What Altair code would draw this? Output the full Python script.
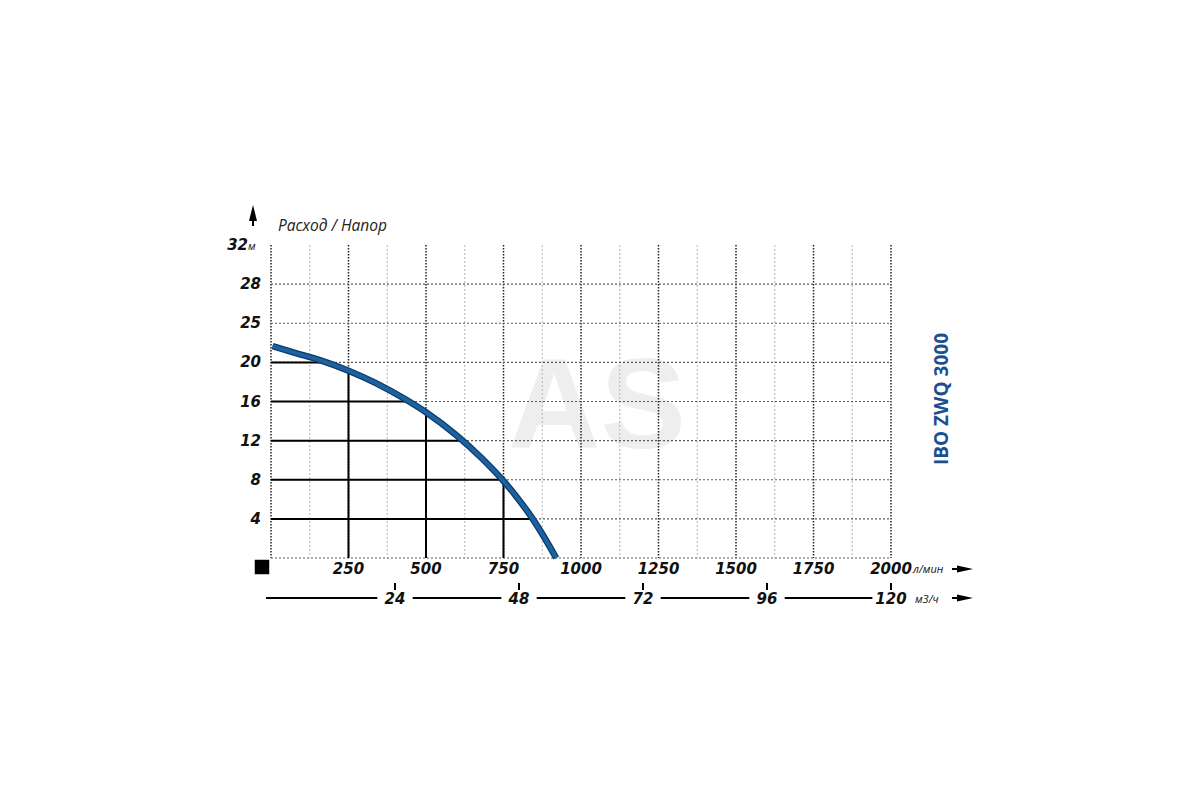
import altair as alt
import pandas as pd

# ---- data ----
flow_lpm = [5, 80, 160, 250, 340, 432, 500, 600, 680, 745, 790, 842, 880, 920]
head_m = [21.65, 20.95, 20.2, 19.15, 17.85, 16.25, 14.9, 12.5, 10.2, 8.05, 6.35, 4.1, 2.2, 0.0]

y_grid = [0, 4, 8, 12, 16, 20, 24, 28]
y_label_vals = [4, 8, 12, 16, 20, 24, 28]
y_label_text = ["4", "8", "12", "16", "20", "25", "28"]
x_major = [0, 250, 500, 750, 1000, 1250, 1500, 1750, 2000]
x_minor = [125, 375, 625, 875, 1125, 1375, 1625, 1875]
x_labels = [250, 500, 750, 1000, 1250, 1500, 1750, 2000]
m3h_ticks = [24, 48, 72, 96, 120]

ref_heads = [20, 16, 12, 8, 4]
ref_heads_flow_end = [177, 444, 617, 746, 844]
ref_flows = [250, 500, 750]
ref_flows_head_end = [19.15, 14.9, 7.9]

W, H = 620, 313
XD = [0, 2000]
YD = [0, 32]
FONT = "DejaVu Sans"


def X(field):
    return alt.X(field, type="quantitative", scale=alt.Scale(domain=XD, nice=False, zero=False),
                 title=None, axis=None)


def Y(field):
    return alt.Y(field, type="quantitative", scale=alt.Scale(domain=YD, nice=False, zero=False),
                 title=None, axis=None)


dummy = pd.DataFrame({"k": [0]})


def txt(s, x, y, size, weight="normal", style="normal", color="#111111",
        align="left", baseline="middle", font=FONT, angle=0):
    return alt.Chart(dummy).mark_text(
        text=s, fontSize=size, fontWeight=weight, fontStyle=style, color=color,
        align=align, baseline=baseline, font=font, angle=angle
    ).encode(x=alt.value(x), y=alt.value(y))


# watermark
watermark = txt("AS", 326, 203, 128, weight="bold", color="#eeeeee", align="center",
                baseline="alphabetic", font="Liberation Sans")

# grids
minor_df = pd.DataFrame({"q": x_minor})
minor = alt.Chart(minor_df).mark_rule(color="#b5b5b5", strokeWidth=1, strokeDash=[2, 2]).encode(
    x=X("q:Q"), y=alt.value(0), y2=alt.value(H))

major_df = pd.DataFrame({"q": x_major})
major = alt.Chart(major_df).mark_rule(color="#222222", strokeWidth=1.5, strokeDash=[1.5, 1.5]).encode(
    x=X("q:Q"), y=alt.value(0), y2=alt.value(H))

hgrid_df = pd.DataFrame({"h": y_grid})
hgrid = alt.Chart(hgrid_df).mark_rule(color="#5a5a5a", strokeWidth=1.2, strokeDash=[2, 2]).encode(
    y=Y("h:Q"), x=alt.value(0), x2=alt.value(W))

# tick labels through the scales
xl_df = pd.DataFrame({"q": x_labels, "lab": [str(v) for v in x_labels]})
x_lab = alt.Chart(xl_df).mark_text(font=FONT, fontSize=15, fontWeight="bold", fontStyle="italic",
                                   color="#111111", baseline="middle", align="center").encode(
    x=X("q:Q"), y=alt.value(324), text="lab:N")

yl_df = pd.DataFrame({"h": y_label_vals, "lab": y_label_text})
y_lab = alt.Chart(yl_df).mark_text(font=FONT, fontSize=15, fontWeight="bold", fontStyle="italic",
                                   color="#111111", baseline="middle", align="right").encode(
    y=Y("h:Q"), x=alt.value(-10), text="lab:N")

# black reference lines
rh_df = pd.DataFrame({"h": ref_heads, "q2": ref_heads_flow_end, "q0": [0] * len(ref_heads)})
ref_h = alt.Chart(rh_df).mark_rule(color="#000000", strokeWidth=2).encode(
    y=Y("h:Q"), x=X("q0:Q"), x2="q2:Q")

rv_df = pd.DataFrame({"q": ref_flows, "h2": ref_flows_head_end, "h0": [0] * len(ref_flows)})
ref_v = alt.Chart(rv_df).mark_rule(color="#000000", strokeWidth=2).encode(
    x=X("q:Q"), y=Y("h0:Q"), y2="h2:Q")

# pump curve
curve_df = pd.DataFrame({"q": flow_lpm, "h": head_m})
curve_out = alt.Chart(curve_df).mark_line(color="#0d3a66", strokeWidth=6.5, interpolate="monotone",
                                          strokeCap="butt").encode(x=X("q:Q"), y=Y("h:Q"))
curve_in = alt.Chart(curve_df).mark_line(color="#1c62a3", strokeWidth=4, interpolate="monotone",
                                         strokeCap="butt").encode(x=X("q:Q"), y=Y("h:Q"))

# second (m3/h) axis
tick_lpm = [v * 2000 / 120 for v in m3h_ticks]
gap = 57
seg_start = [-16] + [t + gap for t in tick_lpm[:-1]]
seg_end = [t - gap for t in tick_lpm[:-1]] + [tick_lpm[-1] - 60]
seg_df = pd.DataFrame({"a": seg_start, "b": seg_end})
segs = alt.Chart(seg_df).mark_rule(color="#000000", strokeWidth=2).encode(
    x=X("a:Q"), x2="b:Q", y=alt.value(353))

m3_df = pd.DataFrame({"q": tick_lpm, "lab": [str(v) for v in m3h_ticks]})
m3_ticks = alt.Chart(m3_df).mark_rule(color="#000000", strokeWidth=2).encode(
    x=X("q:Q"), y=alt.value(338), y2=alt.value(345))
m3_labels = alt.Chart(m3_df).mark_text(font=FONT, fontSize=15, fontWeight="bold", fontStyle="italic",
                                       color="#111111", baseline="middle", align="center").encode(
    x=X("q:Q"), y=alt.value(354), text="lab:N")

# annotations
title = txt("Расход / Напор", 7, -19, 15.5, style="italic", font="Open Sans", color="#222222")
lbl32 = txt("32", -23, 0, 15, weight="bold", style="italic", align="right")
unit_m = txt("м", -23, 2, 11, style="italic", font="Open Sans")
unit_lpm = txt("л/мин", 642, 325, 11, style="italic", font="Open Sans")
unit_m3h = txt("м3/ч", 644, 355, 11, style="italic", font="Open Sans")
model = txt("IBO ZWQ 3000", 671, 154, 19, weight="bold", font="Open Sans", color="#1b4f8f",
            align="center", angle=270)

arrow_head_r = "M-1,-0.45L1,0L-1,0.45Z"
arrow_head_u = "M-0.5,1L0,-1L0.5,1Z"


def arrow_right(y):
    head = alt.Chart(dummy).mark_point(shape=arrow_head_r, size=256, filled=True, color="#000000",
                                       opacity=1, strokeWidth=0).encode(x=alt.value(694), y=alt.value(y))
    tail = alt.Chart(dummy).mark_rule(color="#000000", strokeWidth=2).encode(
        x=alt.value(681), x2=alt.value(690), y=alt.value(y))
    return [tail, head]


up_head = alt.Chart(dummy).mark_point(shape=arrow_head_u, size=256, filled=True, color="#000000",
                                      opacity=1, strokeWidth=0).encode(x=alt.value(-18), y=alt.value(-32))
up_tail = alt.Chart(dummy).mark_rule(color="#000000", strokeWidth=2).encode(
    x=alt.value(-18), y=alt.value(-26), y2=alt.value(-19))

square = alt.Chart(dummy).mark_square(size=210, color="#000000", opacity=1).encode(
    x=alt.value(-9), y=alt.value(322))

layers = [watermark, minor, major, hgrid, ref_h, ref_v, curve_out, curve_in,
          x_lab, y_lab, segs, m3_ticks, m3_labels, title, lbl32, unit_m, unit_lpm, unit_m3h, model,
          up_head, up_tail, square] + arrow_right(324) + arrow_right(353)

chart = alt.layer(*layers).properties(
    width=W, height=H,
    autosize=alt.AutoSizeParams(type="none"),
    padding={"left": 263, "top": 237, "right": 300, "bottom": 230},
    background="white",
).configure_view(stroke=None)

chart.save("out.html", embed_options={"renderer": "svg", "actions": False})
